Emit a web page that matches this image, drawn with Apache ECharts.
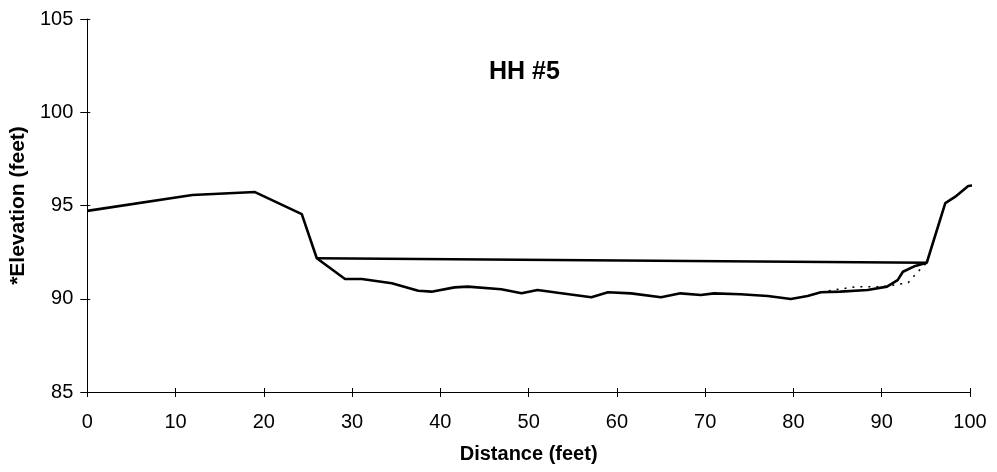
<!DOCTYPE html>
<html><head><meta charset="utf-8">
<script src="https://cdn.jsdelivr.net/npm/echarts@6/dist/echarts.min.js"></script>
<style>html,body{margin:0;padding:0;background:#fff}#c{width:997px;height:472px}</style>
</head><body><div id="c"></div>
<script>
const titleText = "HH #5";
const xName = "Distance (feet)";
const yName = "*Elevation (feet)";
const xTicks = [0,10,20,30,40,50,60,70,80,90,100];
const yTicks = [85,90,95,100,105];

const groundDist = [0,11.9,19.0,24.3,26.0,29.2,31.1,34.5,37.5,39.0,41.6,43.1,46.9,49.2,51.0,53.3,57.1,59.0,61.6,65.0,67.2,69.5,71.0,74.0,77.1,79.7,81.6,83.1,85.3,88.4,90.6,91.8,92.4,93.8,95.1,97.2,98.3,99.8,100.7];
const groundElev = [94.71,95.56,95.72,94.54,92.17,91.06,91.06,90.83,90.43,90.38,90.61,90.65,90.51,90.29,90.47,90.32,90.08,90.35,90.29,90.08,90.29,90.20,90.29,90.24,90.15,89.99,90.15,90.35,90.38,90.47,90.65,91.00,91.45,91.76,91.93,95.13,95.46,96.05,96.10];

const priorDist = [83.1,84.5,87.2,90.2,93.0,94.1,95.1];
const priorElev = [90.35,90.47,90.65,90.65,90.86,91.45,91.93];

const waterDist = [26.0,95.1];
const waterElev = [92.17,91.93];

const zip = (a,b)=>a.map((v,i)=>[v,b[i]]);
const font = '"Liberation Sans", Arial, sans-serif';
const line = {show:true,onZero:false,lineStyle:{color:'#000',width:1}};

const chart = echarts.init(document.getElementById('c'));
chart.setOption({
  animation:false,
  backgroundColor:'#fff',
  graphic:[{type:'text',left:489,top:60,style:{text:titleText,font:'bold 25px '+font,fill:'#000'}}],
  grid:{left:84,right:27,top:19,bottom:80,containLabel:false},
  xAxis:[{type:'value',min:0,max:100,interval:10,
    name:xName,nameLocation:'middle',nameGap:52,
    nameTextStyle:{fontFamily:font,fontSize:20,fontWeight:'bold',color:'#000'},
    axisLine:line,
    axisTick:{show:true,length:5,lineStyle:{color:'#000'}},
    axisLabel:{fontFamily:font,fontSize:20,color:'#000',margin:20},
    splitLine:{show:false}},
    {type:'value',min:0,max:100,interval:10,position:'bottom',offset:0,
    axisLine:{show:false},axisLabel:{show:false},splitLine:{show:false},
    axisTick:{show:true,inside:true,length:4,lineStyle:{color:'#000'}}}],
  yAxis:[{type:'value',min:85,max:105,interval:5,
    name:yName,nameLocation:'middle',nameGap:56,nameRotate:90,
    nameTextStyle:{fontFamily:font,fontSize:21,fontWeight:'bold',color:'#000'},
    axisLine:line,
    axisTick:{show:true,length:7,lineStyle:{color:'#000'}},
    axisLabel:{fontFamily:font,fontSize:20,color:'#000',margin:14},
    splitLine:{show:false}},
    {type:'value',min:85,max:105,interval:5,position:'left',offset:0,
    axisLine:{show:false},axisLabel:{show:false},splitLine:{show:false},
    axisTick:{show:true,inside:true,length:3,lineStyle:{color:'#000'}}}],
  series:[
    {type:'line',data:zip(groundDist,groundElev),symbol:'none',clip:false,
      lineStyle:{color:'#000',width:2.6}},
    {type:'line',data:zip(priorDist,priorElev),symbol:'none',clip:false,
      lineStyle:{color:'#000',width:1.5,type:[2,6]}},
    {type:'line',data:zip(waterDist,waterElev),symbol:'none',clip:false,
      lineStyle:{color:'#000',width:2.4}}
  ]
});
</script></body></html>
